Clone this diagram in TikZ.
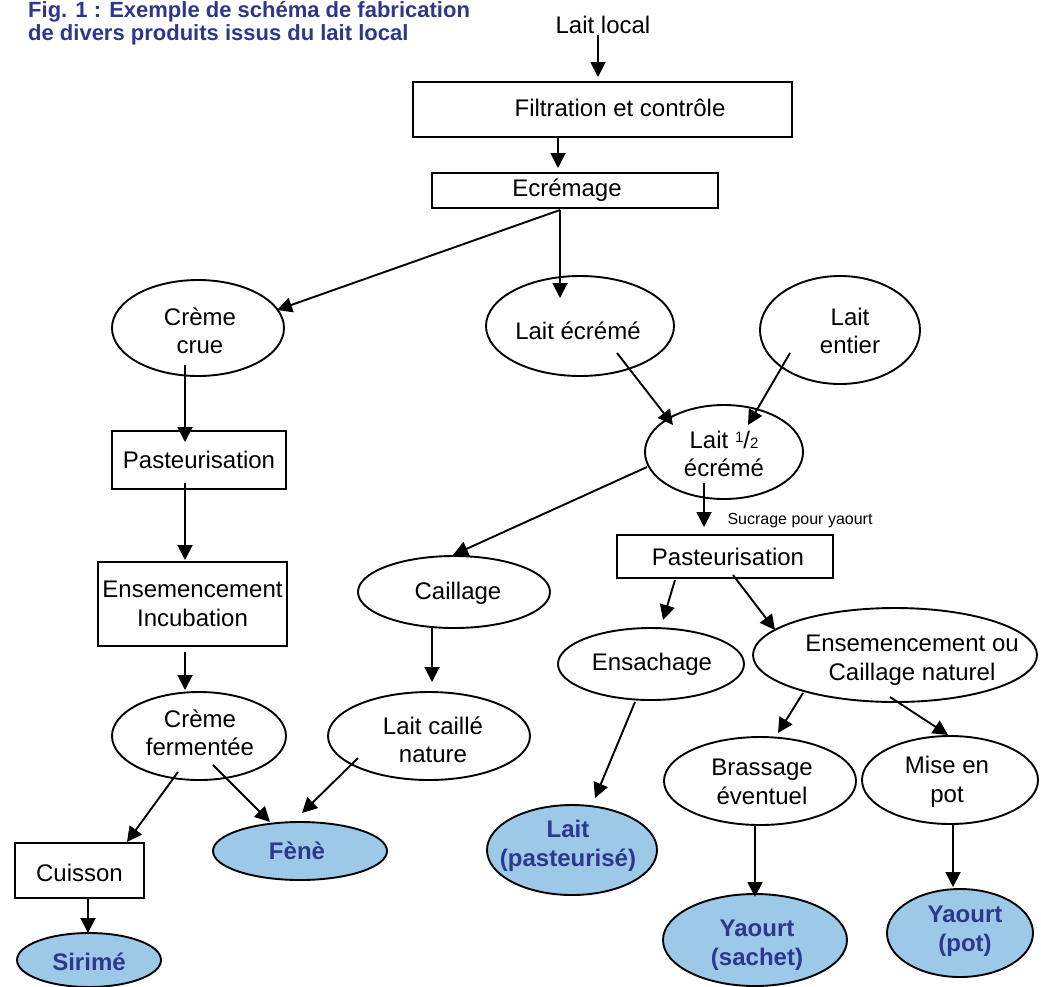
\documentclass[tikz,border=0pt]{standalone}
\usepackage{fontspec}
\setmainfont{Liberation Sans}
\usetikzlibrary{shapes.geometric,arrows.meta,calc}
\definecolor{tblue}{RGB}{45,55,140}
\definecolor{pfill}{RGB}{157,201,232}
\begin{document}
\begin{tikzpicture}[x=1pt,y=-1pt,
  box/.style={draw, line width=1.9pt, rectangle, inner sep=0pt},
  ell/.style={draw, line width=1.9pt, ellipse, inner sep=0pt},
  prod/.style={ell, fill=pfill},
  lbl/.style={font=\fontsize{24}{28.5}\selectfont, align=center, inner sep=0pt},
  plbl/.style={font=\bfseries\fontsize{24}{28.5}\selectfont, align=center, inner sep=0pt, text=tblue},
  ttl/.style={font=\bfseries\fontsize{22}{24}\selectfont, text=tblue, inner sep=0pt, anchor=base west},
  arr/.style={line width=1.9pt, -{Triangle[length=15pt,width=15pt]}}]
\useasboundingbox (0,0) rectangle (1041,986);

% title
\node[ttl] (t1) at (28,17) {Fig. 1 : Exemple de schéma de fabrication};
\node[ttl] (t2) at (28,40) {de divers produits issus du lait local};

% top
\node[lbl] (ll) at (603,25) {Lait local};
\node[box, minimum width=379pt, minimum height=55pt, label={[lbl,xshift=17.5pt,yshift=1.5pt]center:Filtration et contrôle}] (filt) at (602.5,109.5) {};
\node[box, minimum width=286pt, minimum height=35pt, label={[lbl,xshift=-8pt]center:Ecrémage}] (ecr) at (575,190.5) {};

% left column
\node[ell, minimum width=172pt, minimum height=96pt, label={[lbl,xshift=2pt,yshift=-3pt]center:Crème\\crue}] (cc) at (198,328) {};
\node[box, minimum width=174pt, minimum height=58pt, label={[lbl]center:Pasteurisation}] (p1) at (199,460) {};
\node[box, minimum width=189pt, minimum height=84pt, label={[lbl]center:Ensemencement\\Incubation}] (ei) at (192.5,604) {};
\node[ell, minimum width=174pt, minimum height=88pt, label={[lbl,xshift=1pt,yshift=3pt]center:Crème\\fermentée}] (cf) at (199,736) {};
\node[box, minimum width=129pt, minimum height=55pt, label={[lbl,yshift=-2.5pt]center:Cuisson}] (cuis) at (79.5,870.5) {};
\node[prod, minimum width=144pt, minimum height=54pt, label={[plbl,yshift=-2pt]center:Sirimé}] (sir) at (89,960) {};
\node[prod, minimum width=174pt, minimum height=58pt, label={[plbl,xshift=-3pt]center:Fènè}] (fene) at (300,851) {};

% middle
\node[ell, minimum width=188pt, minimum height=100pt, label={[lbl,xshift=-2pt,yshift=-5pt]center:Lait écrémé}] (le) at (580,326) {};
\node[ell, minimum width=160pt, minimum height=108pt, label={[lbl,xshift=10pt,yshift=-1pt]center:Lait\\entier}] (lent) at (840,330) {};
\node[ell, minimum width=158pt, minimum height=94pt, label={[lbl,yshift=-2pt]center:Lait {\fontsize{15}{15}\selectfont\raisebox{6pt}{1}}/{\fontsize{15}{15}\selectfont 2}\\écrémé}] (ld) at (724,452) {};
\node[ell, minimum width=192pt, minimum height=72pt, label={[lbl,xshift=4pt,yshift=-1pt]center:Caillage}] (cai) at (454,592) {};
\node[ell, minimum width=202pt, minimum height=88pt, label={[lbl,xshift=4pt,yshift=-4pt]center:Lait caillé\\nature}] (lcn) at (429,736) {};

% right
\node[font=\fontsize{16}{19}\selectfont, inner sep=0pt] (suc) at (800,521) {Sucrage pour yaourt};
\node[box, minimum width=216pt, minimum height=43pt, label={[lbl,xshift=3pt]center:Pasteurisation}] (p2) at (725,556.5) {};
\node[ell, minimum width=186pt, minimum height=72pt, label={[lbl,xshift=1pt]center:Ensachage}] (ens) at (651,664) {};
\node[ell, minimum width=284pt, minimum height=94pt, label={[lbl,xshift=17pt,yshift=-5pt]center:Ensemencement ou\\Caillage naturel}] (eoc) at (895,655) {};
\node[ell, minimum width=192pt, minimum height=88pt, label={[lbl,xshift=2pt,yshift=-1pt]center:Brassage\\éventuel}] (bra) at (760,781) {};
\node[ell, minimum width=176pt, minimum height=88pt, label={[lbl,xshift=-3pt,yshift=-2pt]center:Mise en\\pot}] (mep) at (950,780) {};
\node[prod, minimum width=170pt, minimum height=90pt, label={[plbl,xshift=-4pt,yshift=4pt]center:Lait\\(pasteurisé)}] (lp) at (572,850) {};
\node[prod, minimum width=184pt, minimum height=92pt, label={[plbl,xshift=2pt,yshift=-5pt]center:Yaourt\\(sachet)}] (ys) at (755,940) {};
\node[prod, minimum width=146pt, minimum height=88pt, label={[plbl,xshift=5pt,yshift=2pt]center:Yaourt\\(pot)}] (yp) at (960,933) {};

% connectors
\draw[arr] ([shift={(-5,10)}]ll.center) -- ([shift={(-4.5,-32.5)}]filt.center);
\draw[arr] ([shift={(-44.5,27.5)}]filt.center) -- ([shift={(-17,-22.5)}]ecr.center);
\draw[arr] ([shift={(-15,19.5)}]ecr.center) -- ([shift={(79,-18)}]cc.center);
\draw[arr] ([shift={(-15,19.5)}]ecr.center) -- ([shift={(-20,-28)}]le.center);
\draw[arr] ([shift={(-13,37)}]cc.center) -- ([shift={(-14,-18)}]p1.center);
\draw[arr] ([shift={(-14,23)}]p1.center) -- ([shift={(-7.5,-44)}]ei.center);
\draw[arr] ([shift={(-7.5,48)}]ei.center) -- ([shift={(-14,-46)}]cf.center);
\draw[arr] ([shift={(37,27)}]le.center) -- ([shift={(-51,-27)}]ld.center);
\draw[arr] ([shift={(-50,23)}]lent.center) -- ([shift={(24,-27)}]ld.center);
\draw[arr] ([shift={(-77,15)}]ld.center) -- ([shift={(-1,-37)}]cai.center);
\draw[arr] ([shift={(-20,31)}]ld.center) -- ([shift={(-21,-29.5)}]p2.center);
\draw[arr] ([shift={(-22,36)}]cai.center) -- ([shift={(3,-54)}]lcn.center);
\draw[arr] ([shift={(-50,23.5)}]p2.center) -- ([shift={(12,-44)}]ens.center);
\draw[arr] ([shift={(8,18.5)}]p2.center) -- ([shift={(-120,-25)}]eoc.center);
\draw[arr] ([shift={(-92,38)}]eoc.center) -- ([shift={(18,-48)}]bra.center);
\draw[arr] ([shift={(-5,42)}]eoc.center) -- ([shift={(-2,-45)}]mep.center);
\draw[arr] ([shift={(-16,38)}]ens.center) -- ([shift={(23,-52)}]lp.center);
\draw[arr] ([shift={(-5,44)}]bra.center) -- ([shift={(0,-43)}]ys.center);
\draw[arr] ([shift={(3,43)}]mep.center) -- ([shift={(-7,-46)}]yp.center);
\draw[arr] ([shift={(-21,36)}]cf.center) -- ([shift={(47.5,-28.5)}]cuis.center);
\draw[arr] ([shift={(14,29)}]cf.center) -- ([shift={(-30,-29)}]fene.center);
\draw[arr] ([shift={(-71,22)}]lcn.center) -- ([shift={(2,-38)}]fene.center);
\draw[arr] ([shift={(8.5,27.5)}]cuis.center) -- ([shift={(-1,-27)}]sir.center);
\end{tikzpicture}
\end{document}
